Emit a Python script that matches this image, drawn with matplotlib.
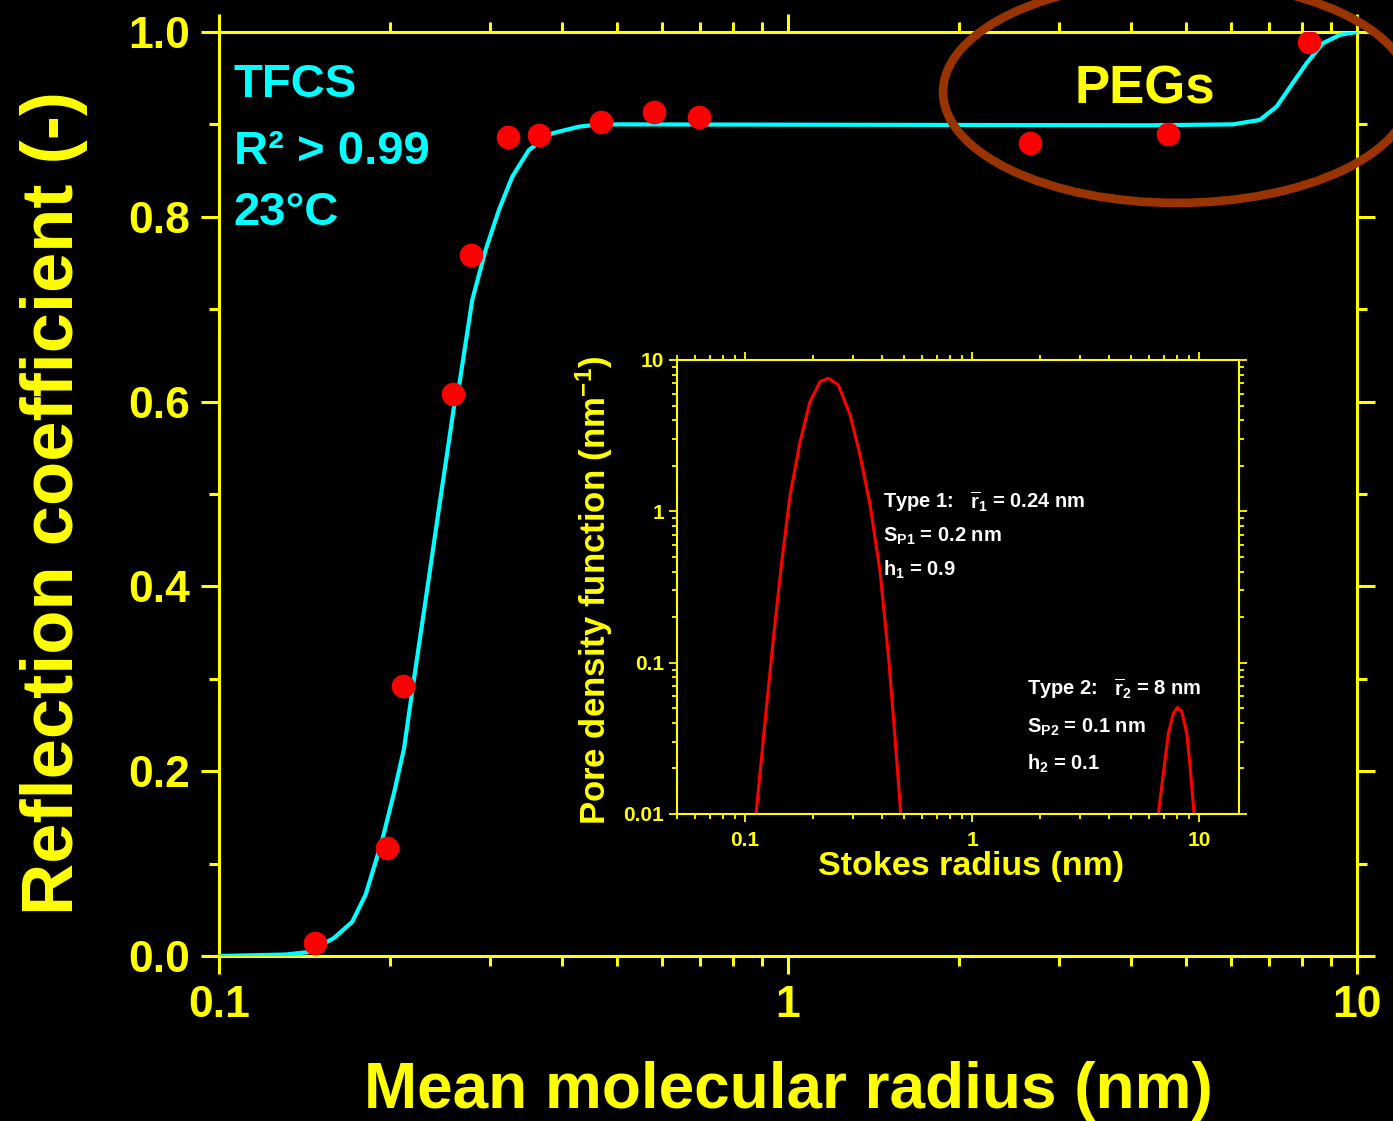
import matplotlib
matplotlib.use("Agg")
import matplotlib.pyplot as plt
from matplotlib.patches import Ellipse
from matplotlib.ticker import FixedLocator, FixedFormatter, NullFormatter, MultipleLocator

# measured reflection coefficients (red dots)
radius = [0.1475, 0.197, 0.2107, 0.2578, 0.2773, 0.322, 0.365, 0.469,
          0.581, 0.697, 2.663, 4.655, 8.236]
sigma = [0.014, 0.117, 0.292, 0.608, 0.759, 0.886, 0.889, 0.903,
         0.913, 0.908, 0.880, 0.890, 0.989]

# fitted curve (cyan)
fit_r = [0.1, 0.131, 0.144, 0.1593, 0.1715, 0.1811, 0.1936, 0.2031, 0.2114,
         0.2186, 0.2308, 0.2435, 0.2588, 0.2641, 0.2787, 0.2942, 0.3105,
         0.3277, 0.3506, 0.3853, 0.4293, 0.4674, 4.327, 6.055, 6.752, 7.225,
         7.717, 8.157, 8.713, 9.335, 10.0]
fit_s = [0.0, 0.0016, 0.0043, 0.0195, 0.037, 0.0666, 0.1255, 0.1767, 0.224,
         0.2868, 0.3853, 0.4838, 0.594, 0.6161, 0.71, 0.764, 0.8074, 0.8434,
         0.8723, 0.8903, 0.8975, 0.9, 0.899, 0.9, 0.9048, 0.9192, 0.9448,
         0.9661, 0.9878, 0.9968, 1.0]

# pore density function, type 1 and type 2 pores
pore1_r = [0.1118, 0.1225, 0.1333, 0.1451, 0.1579, 0.1747, 0.1933, 0.214,
           0.2328, 0.2576, 0.2902, 0.321, 0.3554, 0.3933, 0.4279, 0.4579, 0.4853]
pore1_f = [0.01, 0.0407, 0.1447, 0.4643, 1.281, 2.884, 5.302, 7.187,
           7.568, 6.836, 4.33, 2.356, 1.1, 0.399, 0.1122, 0.0316, 0.01]
pore2_r = [6.617, 6.96, 7.323, 7.703, 8.023, 8.39, 8.826, 9.129, 9.506]
pore2_f = [0.01, 0.01855, 0.0341, 0.0462, 0.0506, 0.0474, 0.0341, 0.0205, 0.01]

main_xticks = [0.1, 1, 10]
main_xlabels = ["0.1", "1", "10"]
inset_xticks = [0.1, 1, 10]
inset_xlabels = ["0.1", "1", "10"]
inset_yticks = [0.01, 0.1, 1, 10]
inset_ylabels = ["0.01", "0.1", "1", "10"]

plt.rcParams["font.family"] = ["Liberation Sans", "DejaVu Sans"]
plt.rcParams["font.weight"] = "bold"
plt.rcParams["axes.labelweight"] = "bold"
plt.rcParams["mathtext.fontset"] = "custom"
plt.rcParams["mathtext.rm"] = "Liberation Sans:bold"
plt.rcParams["mathtext.bf"] = "Liberation Sans:bold"
plt.rcParams["mathtext.it"] = "Liberation Sans:bold"

YEL = "#ffff00"
CYAN = "#00ffff"
RED = "#ff0000"
BROWN = "#993300"

fig = plt.figure(figsize=(13.93, 11.21), dpi=100, facecolor="black")
ax = fig.add_axes([0.1572, 0.1472, 0.8169, 0.8243], facecolor="black")

ax.plot(fit_r, fit_s, color=CYAN, lw=3, zorder=3)
ax.plot(radius, sigma, "o", color=RED, ms=17, mec="none", zorder=4)

ax.set_xscale("log")
ax.set_xlim(0.1, 10)
ax.set_ylim(0, 1.0)
ax.xaxis.set_major_locator(FixedLocator(main_xticks))
ax.xaxis.set_major_formatter(FixedFormatter(main_xlabels))
ax.xaxis.set_minor_locator(FixedLocator([k * d for d in (0.1, 1) for k in range(2, 10)]))
ax.xaxis.set_minor_formatter(NullFormatter())
ax.yaxis.set_major_locator(MultipleLocator(0.2))
ax.yaxis.set_minor_locator(MultipleLocator(0.1))
ax.yaxis.set_major_formatter(plt.FuncFormatter(lambda v, p: f"{v:.1f}"))

for s in ax.spines.values():
    s.set_color(YEL)
    s.set_linewidth(2.2)
ax.tick_params(which="both", direction="out", colors=YEL, width=2.2,
               top=True, right=True)
ax.tick_params(which="major", length=13, labelsize=32, pad=8)
ax.tick_params(which="minor", length=7.5)

ax.set_xlabel("Mean molecular radius (nm)", color=YEL, fontsize=46,
              fontweight="bold")
ax.xaxis.set_label_coords(0.5, -0.114)
ax.set_ylabel("Reflection coefficient (-)", color=YEL, fontsize=52,
              fontweight="bold")
ax.yaxis.set_label_coords(-0.115, 0.49)

ax.text(0.013, 0.9297, "TFCS", color=CYAN, fontsize=34, transform=ax.transAxes)
ax.text(0.013, 0.857, "R\u00b2 > 0.99", color=CYAN, fontsize=34, transform=ax.transAxes)
ax.text(0.013, 0.791, "23\u00b0C", color=CYAN, fontsize=34, transform=ax.transAxes)
ax.text(0.8137, 0.923, "PEGs", color=YEL, fontsize=38, ha="center",
        transform=ax.transAxes)

ell = Ellipse((0.845, 0.918), 0.336, 0.198, transform=fig.transFigure,
              fill=False, edgecolor=BROWN, lw=6.2, zorder=10)
fig.patches.append(ell)

# inset: pore density function
ax2 = fig.add_axes([0.4858, 0.2739, 0.4037, 0.405], facecolor="black")
ax2.plot(pore1_r, pore1_f, color=RED, lw=2.2)
ax2.plot(pore2_r, pore2_f, color=RED, lw=2.2)
ax2.set_xscale("log")
ax2.set_yscale("log")
ax2.set_xlim(0.05, 15)
ax2.set_ylim(0.01, 10)
ax2.xaxis.set_major_locator(FixedLocator(inset_xticks))
ax2.xaxis.set_major_formatter(FixedFormatter(inset_xlabels))
ax2.yaxis.set_major_locator(FixedLocator(inset_yticks))
ax2.yaxis.set_major_formatter(FixedFormatter(inset_ylabels))
ax2.xaxis.set_minor_formatter(NullFormatter())
ax2.yaxis.set_minor_formatter(NullFormatter())
for s in ax2.spines.values():
    s.set_color(YEL)
    s.set_linewidth(1.5)
ax2.tick_params(which="both", direction="out", colors=YEL, width=1.3,
                top=True, right=True)
ax2.tick_params(which="major", length=6, labelsize=15, pad=3)
ax2.tick_params(axis="x", which="major", pad=6)
ax2.tick_params(which="minor", length=3.5)
ax2.set_xlabel("Stokes radius (nm)", color=YEL, fontsize=24.5, fontweight="bold")
ax2.xaxis.set_label_coords(0.524, -0.082)
ax2.set_ylabel("Pore density function (nm$^{-1}$)", color=YEL, fontsize=25,
               fontweight="bold")
ax2.yaxis.set_label_coords(-0.11, 0.493)

tkw = dict(color="white", fontsize=14.5, transform=ax2.transAxes,
           va="baseline")
ax2.text(0.367, 0.674, r"Type 1:   $\overline{\mathrm{r}}_\mathrm{1}$ = 0.24 nm", **tkw)
ax2.text(0.367, 0.599, r"S$_\mathrm{P1}$ = 0.2 nm", **tkw)
ax2.text(0.367, 0.524, r"h$_\mathrm{1}$ = 0.9", **tkw)
ax2.text(0.623, 0.262, r"Type 2:   $\overline{\mathrm{r}}_\mathrm{2}$ = 8 nm", **tkw)
ax2.text(0.623, 0.178, r"S$_\mathrm{P2}$ = 0.1 nm", **tkw)
ax2.text(0.623, 0.097, r"h$_\mathrm{2}$ = 0.1", **tkw)

fig.savefig("out.png", dpi=100, facecolor="black")
